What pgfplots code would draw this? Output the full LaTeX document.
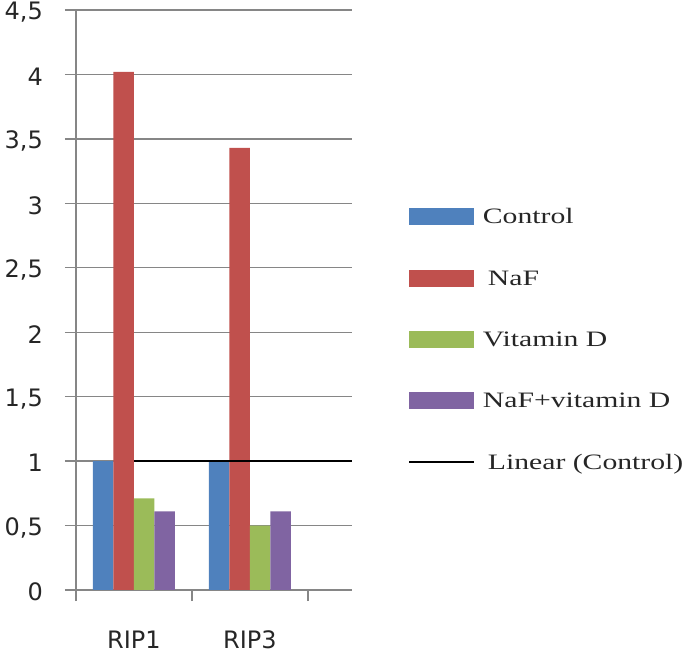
\documentclass[border=0pt]{standalone}
\usepackage{pgfplots}
\pgfplotsset{compat=1.18}
\usepackage{fontspec}
\setmainfont{DejaVu Sans}
\newfontfamily\legfont[FakeStretch=1.35]{Liberation Serif}
\definecolor{cBlue}{HTML}{4F81BD}
\definecolor{cRed}{HTML}{C0504D}
\definecolor{cGreen}{HTML}{9BBB59}
\definecolor{cPurple}{HTML}{8064A2}
\definecolor{gridgray}{HTML}{868686}
\pgfplotsset{
  barimg/.style={legend image code/.code={\fill[##1] (0bp,-8.5bp) rectangle (65bp,8.5bp);}},
  lineimg/.style={legend image code/.code={\draw[##1] (0bp,0bp) -- (65bp,0bp);}},
}
\begin{document}
\begin{tikzpicture}
\path[use as bounding box] (0,0) rectangle (685bp,657bp);
\begin{axis}[
  at={(76bp,67bp)}, anchor=south west,
  scale only axis, width=276bp, height=580bp,
  xmin=-0.5, xmax=1.88, ymin=0, ymax=4.5,
  axis x line*=bottom, axis y line*=left,
  axis line style={draw=gridgray, line width=1.3bp, -},
  xtick={-0.5,0.5,1.5}, xticklabels={},
  extra x ticks={0,1}, extra x tick labels={RIP1,RIP3},
  extra x tick style={major tick length=0pt, grid=none},
  ytick={0,0.5,1,1.5,2,2.5,3,3.5,4,4.5},
  yticklabels={0,{0,5},1,{1,5},2,{2,5},3,{3,5},4,{4,5}},
  tick align=outside, major tick length=11bp,
  tick style={draw=gridgray, line width=1.3bp},
  ymajorgrids, xmajorgrids=false,
  major grid style={draw=gridgray, line width=1.3bp},
  ticklabel style={font=\fontsize{24bp}{24bp}\selectfont, text=black!85},
  xticklabel style={anchor=center, inner sep=0pt, yshift=-50bp},
  yticklabel style={anchor=east, inner sep=0pt, xshift=-22bp, yshift=-2bp},
  legend style={at={(1.204,0.432)}, anchor=west, draw=none, fill=none,
    inner sep=0pt, outer sep=0pt, row sep=44.3bp, column sep=8bp,
    font=\legfont\fontsize{22bp}{22bp}\selectfont,
    nodes={inner sep=0pt, text height=15.5bp, text depth=1.5bp, text=black!85},
    cells={anchor=west}},
]
\addplot[ybar, bar width=20.5bp, bar shift=-30.75bp, fill=cBlue, draw=none, barimg] coordinates {(0,1) (1,1)};
\addlegendentry{Control}
\addplot[ybar, bar width=20.5bp, bar shift=-10.25bp, fill=cRed, draw=none, barimg] coordinates {(0,4.02) (1,3.43)};
\addlegendentry{\hspace*{5bp}NaF}
\addplot[ybar, bar width=20.5bp, bar shift=10.25bp, fill=cGreen, draw=none, barimg] coordinates {(0,0.71) (1,0.5)};
\addlegendentry{Vitamin D}
\addplot[ybar, bar width=20.5bp, bar shift=30.75bp, fill=cPurple, draw=none, barimg] coordinates {(0,0.61) (1,0.61)};
\addlegendentry{NaF+vitamin D}
\addplot[sharp plot, black, line width=1.6bp, mark=none, lineimg] coordinates {(0,1) (1.88,1)};
\addlegendentry{\hspace*{5bp}Linear (Control)}
\end{axis}
\end{tikzpicture}
\end{document}
